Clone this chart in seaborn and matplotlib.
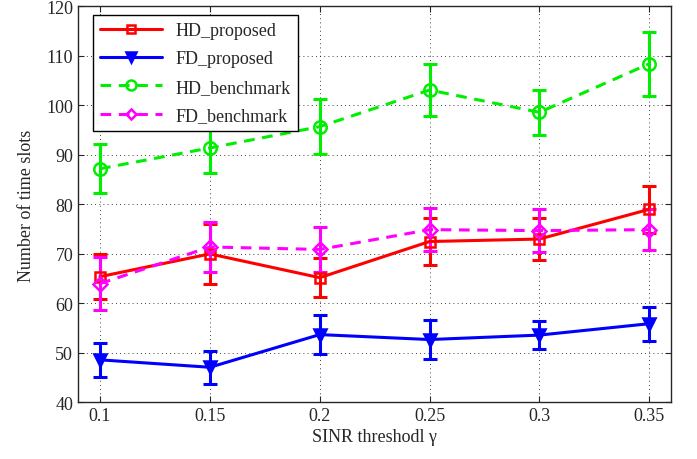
import numpy as np
import pandas as pd
import seaborn as sns
import matplotlib.pyplot as plt

# SINR thresholds
gamma = [0.1, 0.15, 0.2, 0.25, 0.3, 0.35]

# mean number of time slots and error bar half-ranges
hd_prop = [65.4, 70.0, 65.2, 72.5, 73.0, 79.0]
hd_prop_err = [4.5, 6.0, 4.0, 4.7, 4.2, 4.7]
fd_prop = [48.6, 47.1, 53.7, 52.7, 53.6, 55.9]
fd_prop_err = [3.5, 3.3, 4.0, 4.0, 2.8, 3.4]
hd_bench = [87.2, 91.4, 95.7, 103.1, 98.6, 108.4]
hd_bench_err = [5.0, 5.0, 5.6, 5.2, 4.6, 6.5]
fd_bench = [64.0, 71.4, 70.9, 74.9, 74.7, 74.9]
fd_bench_err = [5.4, 5.0, 4.5, 4.4, 4.3, 4.2]

names = ['HD_proposed', 'FD_proposed', 'HD_benchmark', 'FD_benchmark']
means = [hd_prop, fd_prop, hd_bench, fd_bench]
errs = [hd_prop_err, fd_prop_err, hd_bench_err, fd_bench_err]
colors = ['#ff0000', '#0000ff', '#00ee00', '#ff00ff']
markers = ['s', 'v', 'o', 'D']
msizes = [7, 9, 9, 7]
dashed = [False, False, True, True]

df = pd.concat([pd.DataFrame({'gamma': gamma, 'slots': m, 'err': e, 'scheme': n})
                for n, m, e in zip(names, means, errs)], ignore_index=True)

sns.set_style('ticks')
plt.rcParams['font.family'] = ['Liberation Serif', 'DejaVu Serif']

fig = plt.figure(figsize=(6.97, 4.6), dpi=100)
ax = fig.add_axes([0.112, 0.123, 0.851, 0.861])

for n, c, mk, ms, d in zip(names, colors, markers, msizes, dashed):
    sub = df[df['scheme'] == n]
    ax.errorbar(sub['gamma'], sub['slots'], yerr=sub['err'], fmt='none',
                ecolor=c, elinewidth=2.2, capsize=5, capthick=2.2, zorder=3)
    sns.lineplot(data=sub, x='gamma', y='slots', ax=ax, color=c, lw=2.2,
                 marker=mk, markersize=ms,
                 markerfacecolor=c if mk == 'v' else 'none',
                 markeredgecolor=c, markeredgewidth=1.8,
                 linestyle=(0, (3.5, 2.5)) if d else '-', label=n, zorder=4)

ax.set_xlim(0.09, 0.36)
ax.set_ylim(40, 120)
ax.set_xticks(gamma)
ax.set_xticklabels(['0.1', '0.15', '0.2', '0.25', '0.3', '0.35'])
ax.set_yticks(range(40, 121, 10))
ax.grid(True, color='black', linestyle=(0, (1, 4)), linewidth=0.6)
ax.tick_params(direction='in', top=True, right=True, labelsize=13, length=4)
for s in ax.spines.values():
    s.set_linewidth(1.0)
ax.set_xlabel('SINR threshodl γ', fontsize=13, labelpad=3)
ax.set_ylabel('Number of time slots', fontsize=13, labelpad=8)

leg = ax.legend(loc='upper left', bbox_to_anchor=(0.025, 0.978), fontsize=13,
                frameon=True, fancybox=False, edgecolor='black', framealpha=1,
                handlelength=3.4, labelspacing=0.62, borderaxespad=0,
                markerscale=0.8)
leg.get_frame().set_linewidth(1.0)

fig.savefig('out.png', dpi=100)
